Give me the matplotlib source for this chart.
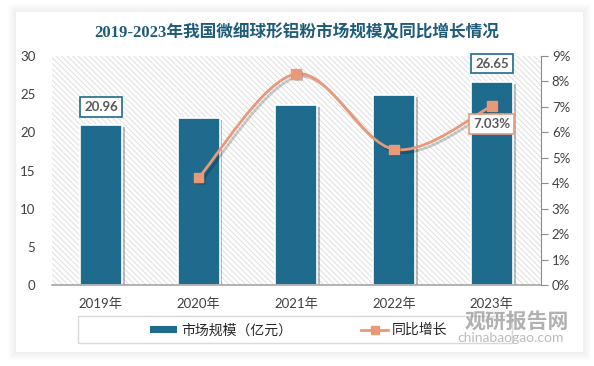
import numpy as np
import matplotlib
matplotlib.use('Agg')
import matplotlib.pyplot as plt
import matplotlib.patheffects as pe
from matplotlib.patches import Rectangle, PathPatch
from matplotlib.path import Path
from matplotlib.lines import Line2D
from matplotlib.patches import Patch

plt.rcParams['font.family'] = ['Lato', 'Noto Sans CJK SC', 'DejaVu Sans']
plt.rcParams['hatch.linewidth'] = 0.6
plt.rcParams['hatch.color'] = '#dadada'

years = ['2019年', '2020年', '2021年', '2022年', '2023年']
market = [20.96, 21.83, 23.64, 24.90, 26.65]
growth_years = [1, 2, 3, 4]
growth = [4.22, 8.30, 5.33, 7.03]

bar_color = '#1f6b8d'
line_color = '#e8997a'
text_gray = '#404040'

W, H = 594, 366
fig = plt.figure(figsize=(W / 100, H / 100), dpi=100, facecolor='white')

# card with soft shadow
cx0, cy0, cx1, cy1 = 16, 12, 583, 352
for k in range(8, 0, -1):
    fig.patches.append(Rectangle(((cx0 - k) / W, 1 - (cy1 + k) / H), (cx1 - cx0 + 2 * k) / W,
                                 (cy1 - cy0 + 2 * k) / H, transform=fig.transFigure,
                                 facecolor='black', alpha=0.008, edgecolor='none', zorder=-3))
fig.patches.append(Rectangle((cx0 / W, 1 - cy1 / H), (cx1 - cx0) / W, (cy1 - cy0) / H,
                             transform=fig.transFigure, facecolor='white', edgecolor='none', zorder=-2))

ax = fig.add_axes([52 / W, 1 - 285 / H, (540.7 - 52) / W, (285 - 56) / H])
ax.set_facecolor('none')
ax.add_patch(Rectangle((0, 0), 1, 1, transform=ax.transAxes, facecolor='white',
                       hatch='\\\\\\\\\\\\', edgecolor='#dadada', linewidth=0, zorder=0))

x = np.arange(len(years))
bars = ax.bar(x, market, width=0.43, color=bar_color, edgecolor='white', linewidth=1.2, zorder=2,
              path_effects=[pe.SimplePatchShadow(offset=(2, -1.5), shadow_rgbFace='black', alpha=0.25),
                            pe.Normal()])
ax.set_xlim(-0.5, 4.5)
ax.set_ylim(0, 30)
ax.set_yticks(range(0, 31, 5))
ax.set_xticks(x)
ax.set_xticklabels(years)
for s in ['left', 'top', 'right']:
    ax.spines[s].set_visible(False)
ax.spines['bottom'].set_color('#a6a6a6')
ax.spines['bottom'].set_linewidth(1.2)
ax.spines['bottom'].set_zorder(3)
ax.tick_params(axis='y', length=0, pad=12, labelsize=9.5, labelcolor=text_gray)
ax.tick_params(axis='x', length=0, pad=9, labelsize=9.5, labelcolor=text_gray)

for i in [0, 4]:
    ax.annotate(f'{market[i]:.2f}', (x[i], market[i]), xytext=(0, 13), textcoords='offset points',
                ha='center', va='center', fontsize=9.5, fontweight='bold', color='#595959', zorder=6,
                bbox=dict(boxstyle='square,pad=0.3', facecolor='white', edgecolor=bar_color, linewidth=1.2))

ax2 = ax.twinx()
ax2.set_ylim(0, 9)
ax2.set_yticks(range(0, 10))
ax2.set_yticklabels([f'{v}%' for v in range(0, 10)])
for s in ['left', 'top', 'bottom']:
    ax2.spines[s].set_visible(False)
ax2.spines['right'].set_color('#8c8c8c')
ax2.tick_params(axis='y', direction='out', length=5, color='#8c8c8c', pad=3, labelsize=9.5,
                labelcolor=text_gray)

# smoothed line (Catmull-Rom as Bezier)
pts = np.column_stack([growth_years, growth]).astype(float)
ext = np.vstack([pts[0], pts, pts[-1]])
verts = [tuple(pts[0])]
codes = [Path.MOVETO]
for i in range(len(pts) - 1):
    p0, p1, p2, p3 = ext[i], ext[i + 1], ext[i + 2], ext[i + 3]
    c1 = p1 + (p2 - p0) / 6
    c2 = p2 - (p3 - p1) / 6
    verts += [tuple(c1), tuple(c2), tuple(p2)]
    codes += [Path.CURVE4] * 3
ax2.add_patch(PathPatch(Path(verts, codes), facecolor='none', edgecolor=line_color, linewidth=2, zorder=4,
                        path_effects=[pe.SimpleLineShadow(offset=(2, -2), alpha=0.2), pe.Normal()]))
ax2.plot(growth_years, growth, linestyle='none', marker='s', markersize=7, color=line_color, zorder=5,
         path_effects=[pe.SimplePatchShadow(offset=(1.5, -1.5), alpha=0.25), pe.Normal()])

ax2.annotate(f'{growth[-1]:.2f}%', (growth_years[-1], growth[-1]), xytext=(0, -13), textcoords='offset points',
             ha='center', va='center', fontsize=9.5, fontweight='bold', color='#595959', zorder=6,
             bbox=dict(boxstyle='square,pad=0.3', facecolor='white', edgecolor=line_color, linewidth=1.2))

fig.text(297 / W, 1 - 33 / H, '2019-2023年我国微细球形铝粉市场规模及同比增长情况', ha='center', va='center',
         fontsize=12, fontweight='bold', color='#1f5c7a',
         family=['Liberation Serif', 'Noto Sans CJK SC'])

# legend
fig.patches.append(Rectangle((78 / W, 1 - 343 / H), 434 / W, 27 / H, transform=fig.transFigure,
                             facecolor='none', edgecolor='#d9d9d9', linewidth=1, zorder=1))
handles = [Patch(facecolor=bar_color, edgecolor='none', label='市场规模（亿元）'),
           Line2D([0], [0], color=line_color, lw=2, marker='s', markersize=6, label='同比增长')]
leg = fig.legend(handles=handles, loc='center', bbox_to_anchor=(299 / W, 1 - 329.5 / H), ncol=2,
                 frameon=False, fontsize=10, handlelength=1.9, handleheight=0.45, handletextpad=0.3,
                 columnspacing=5.0, labelcolor='#262626')

# watermark
fig.text(517 / W, 1 - 321 / H, '观研报告网', ha='center', va='center', fontsize=15, fontweight='bold',
         color='#909090', alpha=0.7, family=['Noto Sans CJK SC'])
fig.text(511 / W, 1 - 338 / H, 'chinabaogao.com', ha='center', va='center', fontsize=10,
         color='#a0a0a0', alpha=0.7)

fig.savefig('out.png', dpi=100, facecolor='white')
